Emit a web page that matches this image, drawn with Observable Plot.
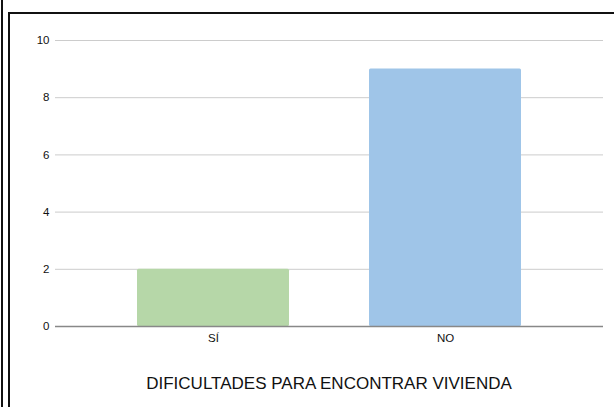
<!DOCTYPE html>
<html>
<head>
<meta charset="utf-8">
<script src="https://cdn.jsdelivr.net/npm/d3@7"></script>
<script src="https://cdn.jsdelivr.net/npm/@observablehq/plot@0.6"></script>
<style>
  html, body { margin: 0; padding: 0; background: #fff; }
  #wrap { position: relative; width: 614px; height: 407px; overflow: hidden; font-family: "Liberation Sans", Arial, sans-serif; }
  #chart { position: absolute; left: 0; top: 0; }
  #title { position: absolute; left: 44px; width: 570px; top: 360px; height: 47px; line-height: 47px; text-align: center; font-size: 17px; color: #111; }
  .ln { position: absolute; background: #111; }
</style>
</head>
<body>
<div id="wrap">
  <div id="chart"></div>
  <div id="title"></div>
  <div class="ln" style="left:1px; top:0; width:2px; height:407px;"></div>
  <div class="ln" style="left:8px; top:12px; width:2px; height:395px;"></div>
  <div class="ln" style="left:8px; top:12px; width:606px; height:2px;"></div>
</div>
<script>
const categories = ["SÍ", "NO"];
const values = [2, 9];
const colors = ["#b6d7a8", "#9fc5e8"];
const yTicks = [0, 2, 4, 6, 8, 10];
const titleText = "DIFICULTADES PARA ENCONTRAR VIVIENDA";

const data = categories.map((c, i) => ({cat: c, value: values[i], color: colors[i]}));

const chart = Plot.plot({
  width: 614,
  height: 360,
  marginLeft: 55,
  marginRight: 11,
  marginTop: 40,
  marginBottom: 34,
  style: {fontFamily: "'Liberation Sans', Arial, sans-serif", fontSize: "11.5px", color: "#111", background: "transparent"},
  x: {domain: categories, paddingInner: 0.346, paddingOuter: 0.3515, label: null},
  y: {domain: [0, 10], label: null},
  marks: [
    Plot.ruleY(yTicks.filter(d => d > 0), {stroke: "#cccccc", strokeWidth: 1}),
    Plot.barY(data, {x: "cat", y: "value", fill: "color", rx: 1.5}),
    Plot.ruleY([0], {stroke: "#888888", strokeWidth: 1.5}),
    Plot.axisY({ticks: yTicks, tickSize: 0, tickPadding: 6, label: null, tickFormat: d => String(d)}),
    Plot.axisX({tickSize: 0, tickPadding: 7, label: null})
  ]
});
document.getElementById("chart").appendChild(chart);
document.getElementById("title").textContent = titleText;
</script>
</body>
</html>
